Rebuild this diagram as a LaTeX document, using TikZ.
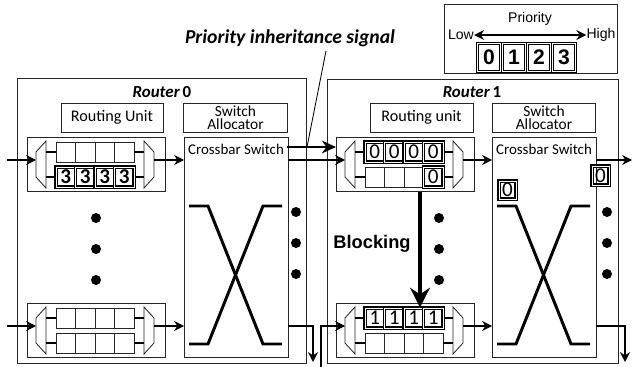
\documentclass[tikz,border=0pt]{standalone}
\usepackage{fontspec}
\setmainfont{Carlito}
\newfontfamily\arialfont{Liberation Sans}
\usepackage{tikz}
\usetikzlibrary{arrows.meta,positioning}
\newcommand{\pxl}{0.025cm}

\tikzset{
  box/.style={draw=black!85, line width=0.6pt, inner sep=0pt},
  unitbox/.style={box, minimum height=29*\pxl, font=\fontsize{11.5}{13}\selectfont},
  cell/.style={box, minimum width=19.5*\pxl, minimum height=20*\pxl},
  hot/.style={cell, draw=black, line width=1.1pt, double=white, double distance=0.45pt, font=\fontsize{15}{15}\selectfont},
  legbox/.style={hot, minimum width=23*\pxl, minimum height=28*\pxl, font=\arialfont\bfseries\fontsize{15}{15}\selectfont},
  legtext/.style={inner sep=0pt, font=\arialfont\fontsize{10}{12}\selectfont},
  title/.style={inner sep=0pt, font=\bfseries\fontsize{12}{14}\selectfont},
  stub/.style={line width=1pt},
  crossline/.style={line width=2.1pt},
  flow/.style={line width=1pt, -{Stealth[length=7pt,width=7pt]}},
  sigarrow/.style={line width=2.1pt, -{Stealth[length=10pt,width=9pt]}},
  blockarrow/.style={line width=2.8pt, -{Stealth[length=14pt,width=14pt]}},
  prioarrow/.style={line width=1.4pt, {Stealth[length=7pt,width=7pt]}-{Stealth[length=7pt,width=7pt]}}
}

\newcommand{\inport}[3]{%
  \node (#1) at (#2,#3)[box, anchor=north west, minimum width=138*\pxl, minimum height=54*\pxl]{};
  \draw[box] (#2+19,#3+4) -- (#2+9,#3+15) -- (#2+9,#3+40) -- (#2+19,#3+51) -- cycle;
  \draw[box] (#2+117,#3+4) -- (#2+127,#3+15) -- (#2+127,#3+40) -- (#2+117,#3+51) -- cycle;
  \foreach \i in {1,...,4}{
    \node (#1-a\i) at (#2+19.25+19.5*\i,#3+15)[cell]{};
    \node (#1-b\i) at (#2+19.25+19.5*\i,#3+40)[cell]{};
  }
  \draw[stub] (#2+19,#3+15) -- (#1-a1.west);
  \draw[stub] (#2+19,#3+40) -- (#1-b1.west);
  \draw[stub] (#1-a4.east) -- (#2+117,#3+15);
  \draw[stub] (#1-b4.east) -- (#2+117,#3+40);
  \coordinate (#1-in) at (#2+9,#3+23);
  \coordinate (#1-out) at (#2+127,#3+23);
}

\newcommand{\crossbox}[3]{%
  \node (#1) at (#2,#3)[box, anchor=north west, minimum width=103.5*\pxl, minimum height=220*\pxl]{};
  \node (#1-lbl) at (#2+52,#3+12)[inner sep=0pt, font=\fontsize{10.6}{12}\selectfont]{Crossbar Switch};
  \draw[crossline] (#2+5,#3+69) -- (#2+24,#3+69) -- (#2+79,#3+207) -- (#2+98,#3+207);
  \draw[crossline] (#2+98,#3+69) -- (#2+79,#3+69) -- (#2+24,#3+207) -- (#2+5,#3+207);
}

\begin{document}
\begin{tikzpicture}[x=\pxl, y=-\pxl]
\useasboundingbox (0,0) rectangle (637,367);

\node (r0) at (17,78)[box, anchor=north west, minimum width=289*\pxl, minimum height=285*\pxl]{};
\node (r1) at (327,79)[box, anchor=north west, minimum width=291*\pxl, minimum height=284*\pxl]{};
\node (r0lbl) at (162,92)[title]{\textit{Router}\,0};
\node (r1lbl) at (472,92)[title]{\textit{Router}\,1};

\node (ru0) at (112,117.5)[unitbox, minimum width=102*\pxl]{Routing Unit};
\node (sa0) at (235.5,117.5)[unitbox, minimum width=103.5*\pxl, align=center, font=\fontsize{11}{9.5}\selectfont]{Switch\\Allocator};
\node (ru1) at (421.5,117.5)[unitbox, minimum width=103*\pxl]{Routing unit};
\node (sa1) at (544,117.5)[unitbox, minimum width=103.5*\pxl, align=center, font=\fontsize{11}{9.5}\selectfont]{Switch\\Allocator};

\inport{p0t}{27}{137}
\inport{p0b}{27}{303}
\inport{p1t}{336}{137}
\inport{p1b}{336}{303}

\crossbox{x0}{184}{137}
\crossbox{x1}{492}{137}

\foreach \i in {1,...,4}{
  \node (p0t-h\i) at (p0t-b\i)[hot]{\bfseries 3};
  \node (p1t-h\i) at (p1t-a\i)[hot]{0};
  \node (p1b-h\i) at (p1b-a\i)[hot]{1};
}
\node (p1t-h5) at (p1t-b4)[hot]{0};
\node (x1-f1) at (507.5,190)[hot, minimum width=17*\pxl, minimum height=18*\pxl]{0};
\node (x1-f2) at (600.5,175.5)[hot, minimum width=17*\pxl, minimum height=19*\pxl]{0};

\foreach \y in {218,249,280}{
  \fill (96,\y) circle (0.125cm);
  \fill (439,\y) circle (0.125cm);
}
\foreach \y in {212,243,274}{
  \fill (296,\y) circle (0.125cm);
  \fill (607,\y) circle (0.125cm);
}

\coordinate (in0t) at (7,160);
\coordinate (in0b) at (7,326);
\coordinate (drop0) at (313,362);
\coordinate (feed1) at (321,367);
\coordinate (out1) at (632,160);
\coordinate (drop1) at (625,362);
\draw[flow] (in0t) -- (p0t-in);
\draw[flow] (in0b) -- (p0b-in);
\draw[flow] (p0t-out) -- (p0t-out -| x0.west);
\draw[flow] (p0b-out) -- (p0b-out -| x0.west);
\draw[flow] (p1t-in -| x0.east) -- (p1t-in);
\draw[flow] (p0b-out -| x0.east) -| (drop0);
\draw[flow] (feed1) |- (p1b-in);
\draw[flow] (p1t-out) -- (p1t-out -| x1.west);
\draw[flow] (p1b-out) -- (p1b-out -| x1.west);
\draw[flow] (p1t-out -| x1.east) -- (out1);
\draw[flow] (p1b-out -| x1.east) -| (drop1);

\coordinate (sig0) at (287,147);
\draw[sigarrow] (sig0) -- (sig0 -| p1t.west);
\node (sigtxt) at (290,38)[inner sep=0pt, font=\bfseries\itshape\fontsize{14}{16}\selectfont]{Priority inheritance signal};
\coordinate (sigfoot) at (326,51);
\coordinate (sigtap) at (307,147);
\draw[line width=0.6pt] (sigfoot) -- (sigtap);

\coordinate (blk) at (420,0);
\draw[blockarrow] (blk |- p1t.south) -- (blk |- p1b-a1.north);
\node (blklbl) at (372,244)[inner sep=0pt, font=\arialfont\bfseries\fontsize{13}{15}\selectfont]{Blocking};

\node (legend) at (530.5,38.5)[box, minimum width=173*\pxl, minimum height=69*\pxl]{};
\node (prio) at (530,19)[legtext]{Priority};
\node (low) at (461,35)[legtext]{Low};
\node (high) at (601,35)[legtext]{High};
\draw[prioarrow] (low) -- (high);
\node (lg0) at (489,57.5)[legbox]{0};
\node (lg1) at (514,57.5)[legbox]{1};
\node (lg2) at (539,57.5)[legbox]{2};
\node (lg3) at (564,57.5)[legbox]{3};
\end{tikzpicture}
\end{document}
